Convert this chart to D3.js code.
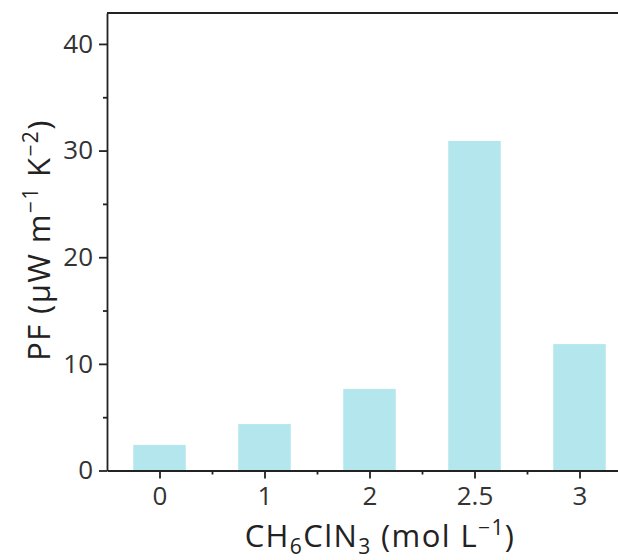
<!DOCTYPE html>
<html lang="en">
<head>
    <meta charset="UTF-8">
    <title>PF vs CH6ClN3 concentration</title>
    <style>
        body { margin: 0; background: #fff; }
        svg text { font-family: "Open Sans", Lato, sans-serif; fill: #222; }
        .axis path, .axis line { stroke: #222; stroke-width: 1.8; }
        .tick text { font-size: 26px; fill: #333; }
        .title { font-size: 31px; letter-spacing: 1.4px; }
        .bar { fill: #b3e6ed; }
    </style>
    <script src="https://d3js.org/d3.v7.min.js"></script>
</head>
<body>
<script>
    // data
    let categories = ["0", "1", "2", "2.5", "3"];
    let pfValues = [2.4, 4.35, 7.65, 30.9, 11.85];
    let yTicks = [0, 10, 20, 30, 40];
    let yMinorTicks = [5, 15, 25, 35];

    let width = 618, height = 560;
    let plotLeft = 107, plotTop = 13, plotBottom = 470.5;

    let svg = d3.select("body").append("svg")
        .attr("width", width)
        .attr("height", height);

    // categories sit on integer positions, frame runs from -0.5 to 4.5 (right side cropped)
    let x = d3.scaleLinear().domain([-0.5, 4.5]).range([plotLeft, 632]);
    let y = d3.scaleLinear().domain([0, 42.9]).range([plotBottom, plotTop]);

    svg.selectAll(".bar")
        .data(pfValues)
        .enter()
        .append("rect")
        .attr("class", "bar")
        .attr("x", (d, i) => x(i - 0.25))
        .attr("width", x(0.25) - x(-0.25))
        .attr("y", d => y(d))
        .attr("height", d => y(0) - y(d));

    // top frame line
    svg.append("line")
        .attr("x1", plotLeft).attr("x2", width)
        .attr("y1", plotTop).attr("y2", plotTop)
        .attr("stroke", "#222").attr("stroke-width", 1.8);

    // bottom axis
    let xAxis = svg.append("g")
        .attr("class", "axis")
        .attr("transform", "translate(0," + plotBottom + ")")
        .call(d3.axisBottom(x)
            .tickValues(d3.range(categories.length))
            .tickFormat(i => categories[i])
            .tickSizeInner(8).tickSizeOuter(0).tickPadding(8));
    xAxis.selectAll(".tick text").attr("dy", "0.72em");

    svg.append("g")
        .attr("class", "axis")
        .attr("transform", "translate(0," + plotBottom + ")")
        .call(d3.axisBottom(x)
            .tickValues(d3.range(categories.length - 1).map(i => i + 0.5))
            .tickFormat("")
            .tickSizeInner(4).tickSizeOuter(0))
        .select(".domain").remove();

    // left axis
    svg.append("g")
        .attr("class", "axis")
        .attr("transform", "translate(" + plotLeft + ",0)")
        .call(d3.axisLeft(y)
            .tickValues(yTicks)
            .tickSizeInner(8).tickSizeOuter(0).tickPadding(6));

    svg.append("g")
        .attr("class", "axis")
        .attr("transform", "translate(" + plotLeft + ",0)")
        .call(d3.axisLeft(y)
            .tickValues(yMinorTicks)
            .tickFormat("")
            .tickSizeInner(4).tickSizeOuter(0))
        .select(".domain").remove();

    // x title
    let xt = svg.append("text")
        .attr("class", "title")
        .attr("x", 380)
        .attr("y", 547)
        .attr("text-anchor", "middle");
    xt.append("tspan").text("CH");
    xt.append("tspan").attr("dy", 7).style("font-size", "21px").text("6");
    xt.append("tspan").attr("dy", -7).text("ClN");
    xt.append("tspan").attr("dy", 7).style("font-size", "21px").text("3");
    xt.append("tspan").attr("dy", -7).text(" (mol L");
    xt.append("tspan").attr("dy", -12).style("font-size", "21px").text("\u22121");
    xt.append("tspan").attr("dy", 12).text(")");

    // y title
    let yt = svg.append("text")
        .attr("class", "title")
        .attr("transform", "translate(50,240) rotate(-90)")
        .attr("text-anchor", "middle");
    yt.append("tspan").text("PF (\u03bcW m");
    yt.append("tspan").attr("dy", -12).style("font-size", "21px").text("\u22121");
    yt.append("tspan").attr("dy", 12).text(" K");
    yt.append("tspan").attr("dy", -12).style("font-size", "21px").text("\u22122");
    yt.append("tspan").attr("dy", 12).text(")");
</script>
</body>
</html>
